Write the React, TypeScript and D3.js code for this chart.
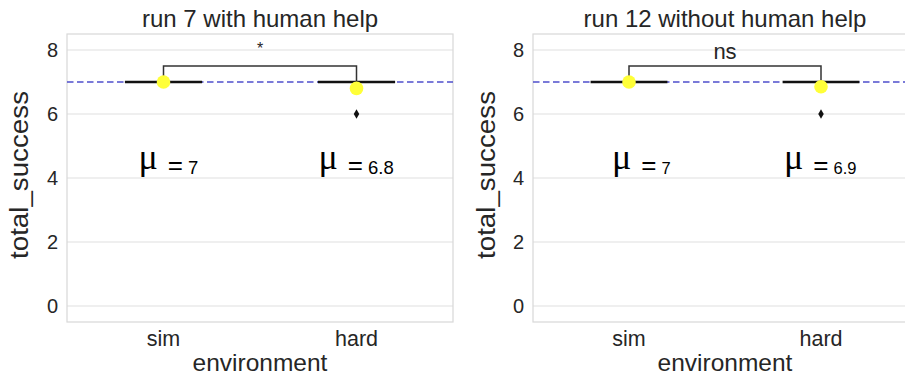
import React from "react";
import * as d3 from "d3";

const categories = ["sim", "hard"];
const titles = ["run 7 with human help", "run 12 without human help"];
const yTicks = [0, 2, 4, 6, 8];
const referenceValue = 7;

// box statistics per panel, per category (all runs scored 7 except outliers)
const run7Q1 = [7, 7];
const run7Median = [7, 7];
const run7Q3 = [7, 7];
const run7Means = [7, 6.8];
const run7Outliers = [[], [6]];
const run7MeanLabels = ["7", "6.8"];

const run12Q1 = [7, 7];
const run12Median = [7, 7];
const run12Q3 = [7, 7];
const run12Means = [7, 6.85];
const run12Outliers = [[], [6]];
const run12MeanLabels = ["7", "6.9"];

const sigLabels = ["*", "ns"];
const bracketTop = 7.5;
const bracketLegEnds = [7.12, 7.0];
const muLabelValue = 4.12;

const panelsData = [
  { q1: run7Q1, med: run7Median, q3: run7Q3, means: run7Means, outliers: run7Outliers, labels: run7MeanLabels },
  { q1: run12Q1, med: run12Median, q3: run12Q3, means: run12Means, outliers: run12Outliers, labels: run12MeanLabels },
];

const layouts = [
  { left: 67, right: 453, ylabX: 28, numFont: 18.5, muOffsets: [-25, -38] },
  { left: 533, right: 917, ylabX: 495, numFont: 16.5, muOffsets: [-17, -37] },
];

const FONT = "'Liberation Sans', Arial, sans-serif";
const TXT = "#262626";

function Panel({ idx }: { idx: number }) {
  const d = panelsData[idx];
  const L = layouts[idx];
  const top = 34;
  const bottom = 322;
  const y = d3.scaleLinear().domain([-0.5, 8.5]).range([bottom, top]);
  const x = d3.scaleBand().domain(categories).range([L.left, L.right]).padding(0);
  const bw = x.bandwidth();
  const cx = (c: string) => (x(c) as number) + bw / 2;
  const boxW = bw * 0.4;
  const diamond = d3.symbol().type(d3.symbolDiamond).size(26)();
  const midX = (L.left + L.right) / 2;
  const sigX = (cx(categories[0]) + cx(categories[1])) / 2;

  return (
    <g>
      {/* grid */}
      {yTicks.map((t) => (
        <line key={t} x1={L.left} x2={L.right} y1={y(t)} y2={y(t)} stroke="#e0e0e0" strokeWidth={1.2} />
      ))}
      <rect x={L.left} y={top} width={L.right - L.left} height={bottom - top} fill="none" stroke="#d8d8d8" strokeWidth={1.2} />
      {/* y tick labels */}
      {yTicks.map((t) => (
        <text key={t} x={L.left - 9} y={y(t) + 7} textAnchor="end" fontSize={20} fontFamily={FONT} fill={TXT}>
          {t}
        </text>
      ))}
      {/* x tick labels */}
      {categories.map((c) => (
        <text key={c} x={cx(c)} y={346} textAnchor="middle" fontSize={21.5} fontFamily={FONT} fill={TXT}>
          {c}
        </text>
      ))}
      <text x={midX} y={371} textAnchor="middle" fontSize={24.5} fontFamily={FONT} fill={TXT}>
        environment
      </text>
      <text
        transform={`translate(${L.ylabX},${(top + bottom) / 2 - 3}) rotate(-90)`}
        textAnchor="middle"
        fontSize={25}
        fontFamily={FONT}
        fill={TXT}
        textLength={168}
        lengthAdjust="spacingAndGlyphs"
      >
        total_success
      </text>
      <text x={midX} y={27} textAnchor="middle" fontSize={24} fontFamily={FONT} fill={TXT}>
        {titles[idx]}
      </text>
      {/* reference line */}
      <line
        x1={L.left}
        x2={L.right}
        y1={y(referenceValue)}
        y2={y(referenceValue)}
        stroke="#4f4fcc"
        strokeWidth={1.5}
        strokeDasharray="6.5,3.5"
      />
      {/* boxes */}
      {categories.map((c, i) => {
        const c0 = cx(c);
        return (
          <g key={c}>
            <rect
              x={c0 - boxW / 2}
              y={y(d.q3[i])}
              width={boxW}
              height={y(d.q1[i]) - y(d.q3[i])}
              fill="none"
              stroke="#111"
              strokeWidth={2.5}
            />
            <line x1={c0 - boxW / 2} x2={c0 + boxW / 2} y1={y(d.med[i])} y2={y(d.med[i])} stroke="#111" strokeWidth={2.5} />
            {d.outliers[i].map((o, k) => (
              <path key={k} d={diamond as string} transform={`translate(${c0},${y(o)})`} fill="#111" />
            ))}
          </g>
        );
      })}
      {/* bracket */}
      <path
        d={`M${cx(categories[0])},${y(bracketLegEnds[0])}V${y(bracketTop)}H${cx(categories[1])}V${y(bracketLegEnds[1])}`}
        fill="none"
        stroke="#333"
        strokeWidth={1.5}
      />
      {/* means */}
      {categories.map((c, i) => (
        <circle key={c} cx={cx(c)} cy={y(d.means[i])} r={6.8} fill="#ffff38" />
      ))}
      {/* significance */}
      {idx === 0 ? (
        <text x={sigX} y={54} textAnchor="middle" fontSize={16} fontFamily={FONT} fill={TXT}>
          {sigLabels[idx]}
        </text>
      ) : (
        <text x={sigX} y={59} textAnchor="middle" fontSize={22} fontFamily={FONT} fill={TXT}>
          {sigLabels[idx]}
        </text>
      )}
      {/* mu labels */}
      {categories.map((c, i) => (
        <text key={c} x={cx(c) + L.muOffsets[i]} y={y(muLabelValue)} fontFamily={FONT} fill="#000">
          <tspan fontSize={36} dy={-5} fontFamily="'Liberation Serif', serif">μ</tspan>
          <tspan fontSize={26} dx={10} dy={5}>=</tspan>
          <tspan fontSize={L.numFont} dx={5}>{d.labels[i]}</tspan>
        </text>
      ))}
    </g>
  );
}

export default function App() {
  return (
    <svg width={905} height={376} style={{ position: "absolute", left: 0, top: 0, background: "#fff" }}>
      <rect width={905} height={376} fill="#fff" />
      <Panel idx={0} />
      <Panel idx={1} />
    </svg>
  );
}
